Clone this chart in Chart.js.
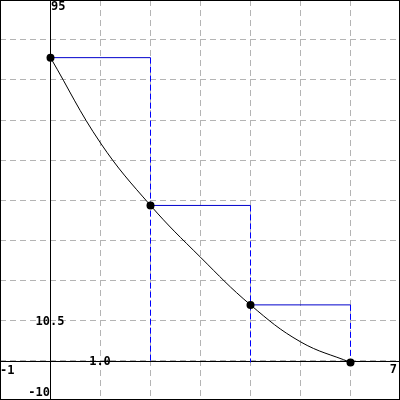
<!DOCTYPE html>
<html>
<head>
<meta charset="utf-8">
<script src="https://cdn.jsdelivr.net/npm/chart.js@4/dist/chart.umd.min.js"></script>
<style>
html,body{margin:0;padding:0;background:#fff;}
canvas{display:block;}
</style>
</head>
<body>
<canvas id="c" width="400" height="400"></canvas>
<script>
// marked points
const pointX = [0, 2, 4, 6];
const pointY = [80, 41.2, 15.1, 0];
// curve
const curveX = [0, 1, 2, 3, 4, 5, 6];
const curveY = [80, 57.6, 41.2, 27.6, 15.1, 5.4, 0];
// axis ranges and tick labels
const xRange = [-1, 7];
const yRange = [-10, 95];
const xTickValues = [-1, 1, 7];
const xTickLabels = ["-1", "1.0", "7"];
const yTickValues = [-10, 10.5, 95];
const yTickLabels = ["-10", "10.5", "95"];

const datasets = [];
datasets.push({
  data: pointX.map((x, i) => ({x, y: pointY[i]})),
  showLine: false, pointRadius: 4, pointHoverRadius: 4,
  pointBackgroundColor: '#000', pointBorderColor: '#000', pointBorderWidth: 0, order: 0
});
datasets.push({
  data: curveX.map((x, i) => ({x, y: curveY[i]})),
  showLine: true, borderColor: '#000', borderWidth: 1, pointRadius: 0,
  tension: 0.4, order: 1
});
for (let i = 0; i < pointX.length - 1; i++) {
  datasets.push({
    data: [{x: pointX[i], y: pointY[i]}, {x: pointX[i + 1], y: pointY[i]}],
    showLine: true, borderColor: '#0000cc', borderWidth: 1, pointRadius: 0, order: 2
  });
  datasets.push({
    data: [{x: pointX[i + 1], y: pointY[i]}, {x: pointX[i + 1], y: 0}],
    showLine: true, borderColor: '#0000ff', borderWidth: 1, borderDash: [6, 3], pointRadius: 0, order: 3
  });
}

const axesPlugin = {
  id: 'axesPlugin',
  beforeDatasetsDraw(chart) {
    const ctx = chart.ctx, xs = chart.scales.x, ys = chart.scales.y;
    const x0 = Math.floor(xs.getPixelForValue(0)) + 0.5;
    const y0 = Math.floor(ys.getPixelForValue(0)) + 0.5;
    ctx.save();
    ctx.strokeStyle = '#000'; ctx.lineWidth = 1;
    ctx.beginPath();
    ctx.moveTo(x0, ys.top); ctx.lineTo(x0, ys.bottom);
    ctx.moveTo(xs.left, y0); ctx.lineTo(xs.right, y0);
    ctx.stroke();
    ctx.restore();
    ctx.save();
    ctx.translate(0.5, 0.5);
  },
  afterDatasetsDraw(chart) {
    chart.ctx.restore();
  },
  afterDraw(chart) {
    const ctx = chart.ctx, xs = chart.scales.x, ys = chart.scales.y;
    const x0 = xs.getPixelForValue(0), y0 = ys.getPixelForValue(0);
    ctx.save();
    ctx.fillStyle = '#000';
    ctx.font = "bold 12px 'DejaVu Sans Mono'";
    xTickValues.forEach((v, i) => {
      const t = xTickLabels[i];
      const px = xs.getPixelForValue(v);
      if (v === xRange[0]) { ctx.textAlign = 'left'; ctx.textBaseline = 'top'; ctx.fillText(t, px, y0 + 3); }
      else if (v === xRange[1]) { ctx.textAlign = 'right'; ctx.textBaseline = 'top'; ctx.fillText(t, px - 3, y0 + 2); }
      else { ctx.textAlign = 'center'; ctx.textBaseline = 'middle'; ctx.fillText(t, px, y0); }
    });
    yTickValues.forEach((v, i) => {
      const t = yTickLabels[i];
      const py = ys.getPixelForValue(v);
      if (v === yRange[0]) { ctx.textAlign = 'right'; ctx.textBaseline = 'bottom'; ctx.fillText(t, x0, py - 1); }
      else if (v === yRange[1]) { ctx.textAlign = 'left'; ctx.textBaseline = 'top'; ctx.fillText(t, x0 + 1, py + 1); }
      else { ctx.textAlign = 'center'; ctx.textBaseline = 'middle'; ctx.fillText(t, x0, py); }
    });
    ctx.strokeStyle = '#000'; ctx.lineWidth = 1;
    ctx.strokeRect(0.5, 0.5, chart.width - 1, chart.height - 1);
    ctx.restore();
  }
};

new Chart(document.getElementById('c'), {
  type: 'scatter',
  data: { datasets },
  options: {
    responsive: false, animation: false, events: [],
    layout: { padding: 0, autoPadding: false },
    plugins: { legend: { display: false }, tooltip: { enabled: false } },
    scales: {
      x: {
        type: 'linear', min: xRange[0], max: xRange[1],
        ticks: { display: false, stepSize: 1 },
        grid: { color: '#b4b4b4', lineWidth: 1, drawTicks: false },
        border: { display: false, dash: [6, 4] }
      },
      y: {
        type: 'linear', min: yRange[0], max: yRange[1],
        ticks: { display: false, stepSize: 10.5 },
        grid: { color: '#b4b4b4', lineWidth: 1, drawTicks: false },
        border: { display: false, dash: [6, 4] }
      }
    }
  },
  plugins: [axesPlugin]
});
</script>
</body>
</html>
